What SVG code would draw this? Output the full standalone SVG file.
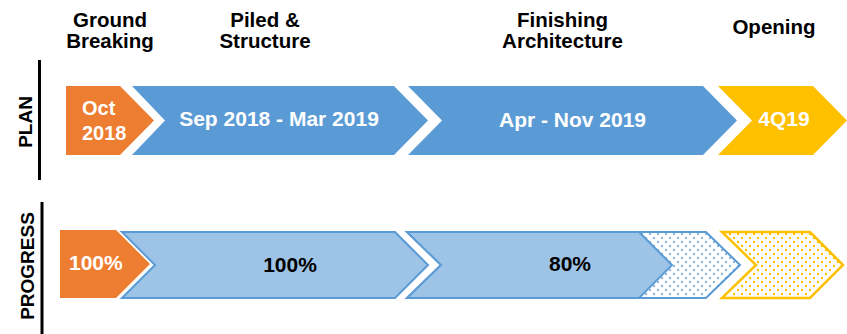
<svg xmlns="http://www.w3.org/2000/svg" width="847" height="334" viewBox="0 0 847 334">
<style>
.hd{font-family:"Liberation Sans",Arial,sans-serif;font-weight:bold;font-size:20.5px;fill:#000;text-anchor:middle}
.wt{font-family:"Liberation Sans",Arial,sans-serif;font-weight:bold;font-size:21px;fill:#fff;text-anchor:middle}
.bk{font-family:"Liberation Sans",Arial,sans-serif;font-weight:bold;font-size:21px;fill:#000;text-anchor:middle}
.side{font-family:"Liberation Sans",Arial,sans-serif;font-weight:bold;font-size:19px;fill:#000;text-anchor:middle}
.or{fill:#ED7D31}
.bl{fill:#5B9BD5}
.ye{fill:#FFC000}
.lb{fill:#9DC3E6;stroke:#5B9BD5;stroke-width:2}
.bd{fill:url(#dotB);stroke:#5B9BD5;stroke-width:2}
.yd{fill:url(#dotY);stroke:#FFC000;stroke-width:2.5}
.ax{stroke:#000;stroke-width:3}
</style>
<defs>
<pattern id="dotB" width="8" height="8" patternUnits="userSpaceOnUse">
<rect width="8" height="8" fill="#fff"/>
<circle cx="2" cy="2" r="1.2" fill="#8DB6E0"/>
<circle cx="6" cy="6" r="1.2" fill="#8DB6E0"/>
</pattern>
<pattern id="dotY" width="8" height="8" patternUnits="userSpaceOnUse">
<rect width="8" height="8" fill="#fff"/>
<circle cx="2" cy="2" r="1.2" fill="#FFC000"/>
<circle cx="6" cy="6" r="1.2" fill="#FFC000"/>
</pattern>
</defs>

<g id="headers">
<text class="hd" x="110" y="26.5">Ground</text>
<text class="hd" x="110" y="47.5">Breaking</text>
<text class="hd" x="265" y="26.5">Piled &amp;</text>
<text class="hd" x="265" y="47.5">Structure</text>
<text class="hd" x="562.5" y="26.5">Finishing</text>
<text class="hd" x="562.5" y="47.5">Architecture</text>
<text class="hd" x="774" y="34">Opening</text>
</g>

<g id="axes">
<line class="ax" x1="39.5" y1="60" x2="39.5" y2="180"/>
<line class="ax" x1="42" y1="202" x2="42" y2="334"/>
<text class="side" transform="translate(32,122) rotate(-90)">PLAN</text>
<text class="side" transform="translate(34,266) rotate(-90)">PROGRESS</text>
</g>

<g id="plan-ground">
<polygon class="or" points="66,86 120,86 154,120.5 120,155 66,155"/>
<text class="wt" style="font-size:20px;text-anchor:start" x="82" y="115">Oct</text>
<text class="wt" style="font-size:20px;text-anchor:start" x="82" y="140">2018</text>
</g>
<g id="plan-structure">
<polygon class="bl" points="132,86 394,86 428,120.5 394,155 132,155 165,120.5"/>
<text class="wt" x="279" y="126">Sep 2018 - Mar 2019</text>
</g>
<g id="plan-finishing">
<polygon class="bl" points="408,86 703,86 737,120.5 703,155 408,155 442,120.5"/>
<text class="wt" x="572.5" y="126.5">Apr - Nov 2019</text>
</g>
<g id="plan-opening">
<polygon class="ye" points="718,86 813,86 847,120.5 813,155 718,155 752,120.5"/>
<text class="wt" x="784" y="126">4Q19</text>
</g>

<g id="progress-ground">
<polygon class="or" points="60,230 116,230 150,264 116,298 60,298"/>
<text class="wt" style="text-anchor:start" x="69" y="270">100%</text>
</g>
<g id="progress-structure">
<polygon class="lb" points="122,232 395,232 428,265 395,298 122,298 155,265"/>
<text class="bk" x="290" y="272">100%</text>
</g>
<g id="progress-finishing">
<polygon class="bd" points="407,232 706,232 740,265 706,298 407,298 441,265"/>
<polygon class="lb" points="407,232 639,232 672,265 639,298 407,298 441,265"/>
<text class="bk" x="570" y="271">80%</text>
</g>
<g id="progress-opening">
<polygon class="yd" points="722,232 810,232 843,265 810,298 722,298 756,265"/>
</g>
</svg>
